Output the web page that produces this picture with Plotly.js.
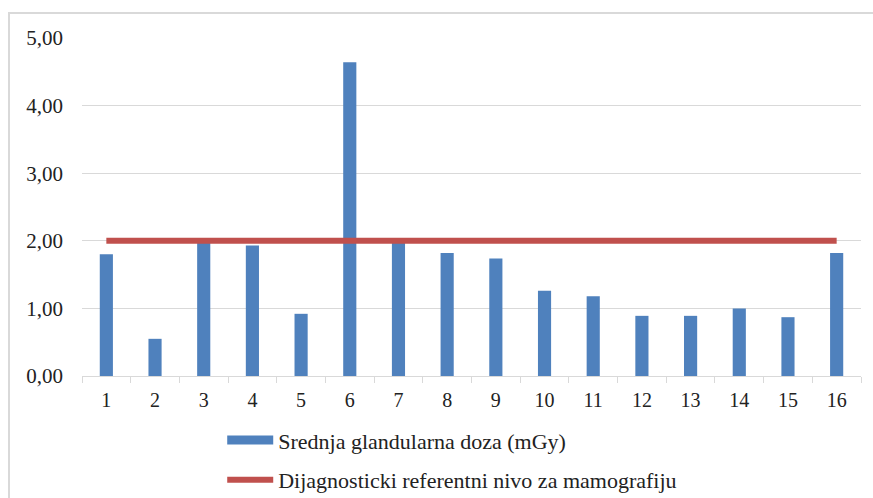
<!DOCTYPE html>
<html>
<head>
<meta charset="utf-8">
<script src="https://cdn.plot.ly/plotly-3.0.1.min.js"></script>
<style>
  html, body { margin: 0; padding: 0; background: #ffffff; }
  #wrap { position: relative; width: 873px; height: 498px; overflow: hidden; }
  #frame { position: absolute; left: 8px; top: 12px; width: 870px; height: 520px; border: 2px solid #d9d9d9; box-sizing: border-box; }
  #chart { position: absolute; left: 0; top: 0; width: 873px; height: 498px; }
</style>
</head>
<body>
<div id="wrap">
  <div id="frame"></div>
  <div id="chart"></div>
</div>
<script>
const categories = ["1","2","3","4","5","6","7","8","9","10","11","12","13","14","15","16"];
const doseValues = [1.80, 0.55, 1.98, 1.93, 0.92, 4.64, 1.98, 1.82, 1.74, 1.26, 1.18, 0.89, 0.89, 1.00, 0.87, 1.82];
const referenceLevel = [2,2,2,2,2,2,2,2,2,2,2,2,2,2,2,2];
const seriesNames = ["Srednja glandularna doza (mGy)", "Dijagnosticki referentni nivo za mamografiju"];

const blue = "#4f81bd";
const red = "#c0504d";
const serif = "'Liberation Serif', 'Times New Roman', serif";

const traces = [
  {
    type: "bar", x: categories, y: doseValues, name: seriesNames[0],
    marker: { color: blue }, showlegend: false
  },
  {
    type: "scatter", mode: "lines", x: categories, y: referenceLevel, name: seriesNames[1],
    line: { color: red, width: 6 }, showlegend: false
  },
  {
    type: "scatter", mode: "lines", x: [null], y: [null], name: seriesNames[0],
    line: { color: blue, width: 9 }, legendgroup: "a", hoverinfo: "skip"
  },
  {
    type: "scatter", mode: "lines", x: [null], y: [null], name: seriesNames[1],
    line: { color: red, width: 6 }, legendgroup: "b", hoverinfo: "skip"
  }
];

const layout = {
  width: 873, height: 498,
  paper_bgcolor: "rgba(0,0,0,0)",
  plot_bgcolor: "rgba(0,0,0,0)",
  margin: { l: 82, r: 12, t: 38, b: 122, autoexpand: false },
  separators: ",.",
  bargap: 0.73,
  font: { family: serif, size: 20, color: "#222222" },
  xaxis: {
    type: "category",
    tickson: "boundaries",
    ticks: "outside", ticklen: 6, tickcolor: "#d9d9d9", tickwidth: 1,
    showline: true, linecolor: "#d9d9d9", linewidth: 1,
    showgrid: false, zeroline: false,
    ticklabelstandoff: 6,
    tickfont: { family: serif, size: 20, color: "#222222" }
  },
  yaxis: {
    range: [0, 5], dtick: 1, tickformat: ".2f",
    showgrid: true, gridcolor: "#d9d9d9", gridwidth: 1,
    zeroline: false, showline: false, ticks: "",
    ticklabelstandoff: 18,
    tickfont: { family: serif, size: 21, color: "#222222" }
  },
  showlegend: true,
  legend: {
    x: 0.18, xanchor: "left", xref: "paper",
    yref: "container", y: 0.158, yanchor: "top",
    orientation: "v", traceorder: "grouped", tracegroupgap: 8,
    itemwidth: 46,
    font: { family: serif, size: 22, color: "#222222" },
    bgcolor: "rgba(0,0,0,0)"
  }
};

Plotly.newPlot("chart", traces, layout, { displayModeBar: false, staticPlot: true });
</script>
</body>
</html>
